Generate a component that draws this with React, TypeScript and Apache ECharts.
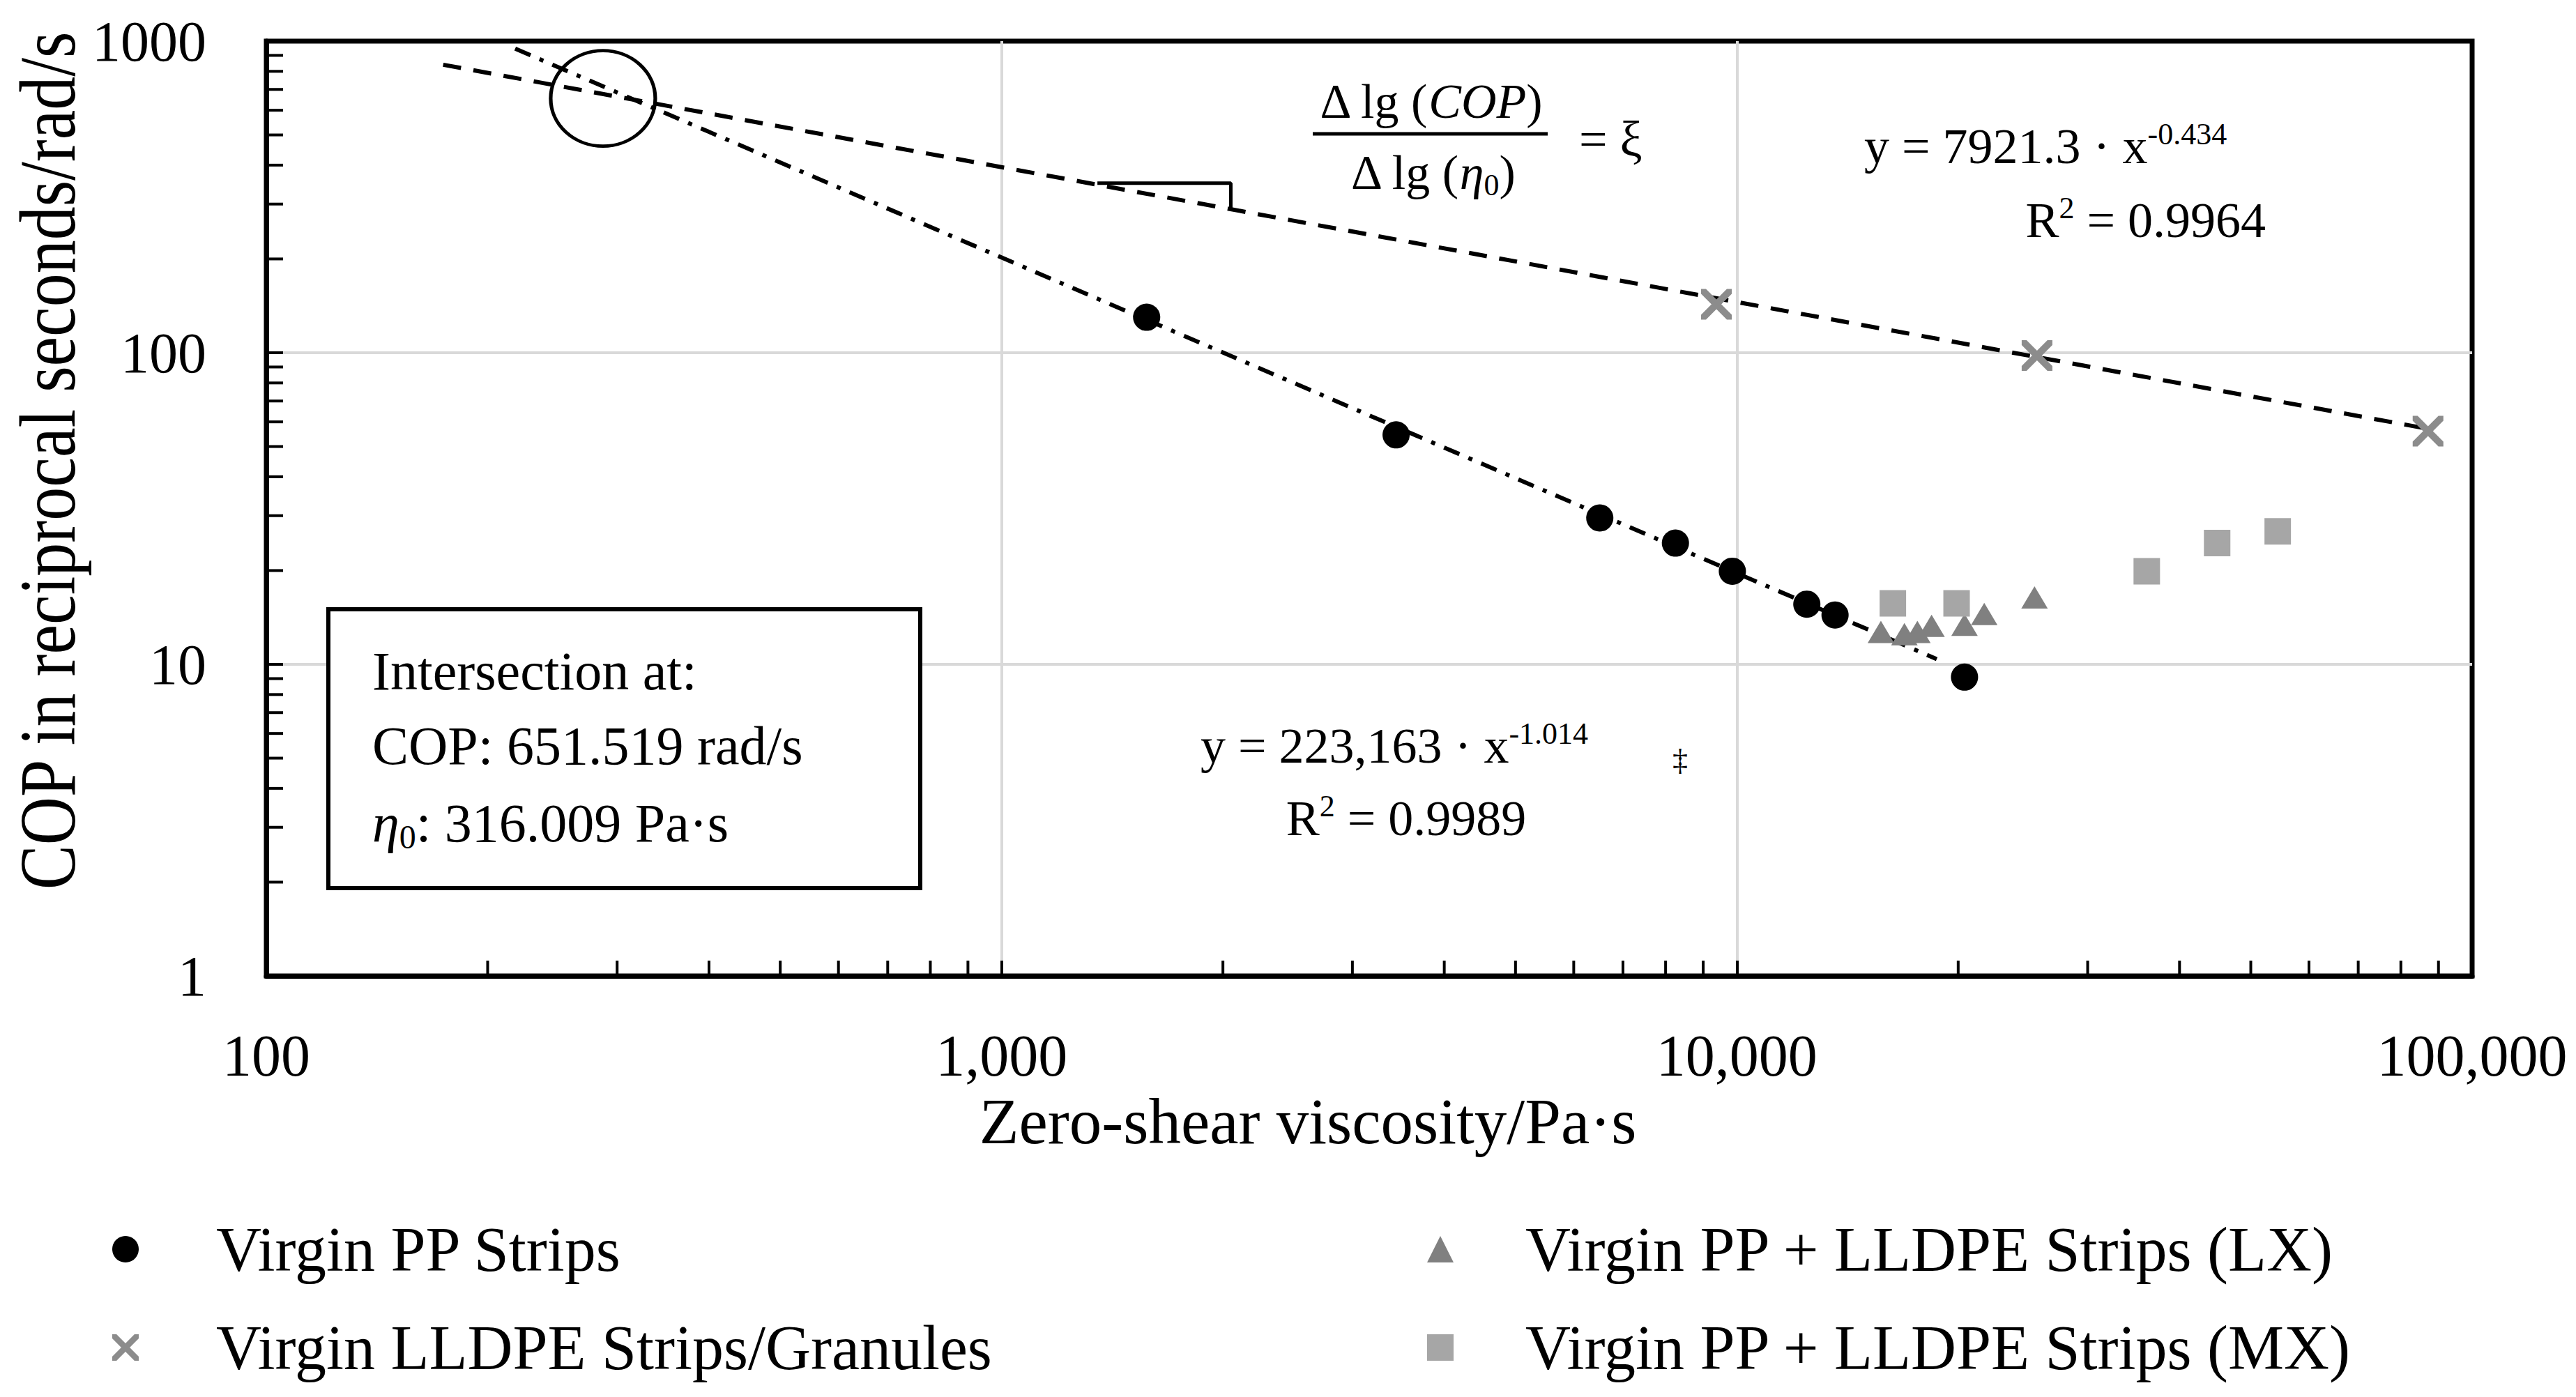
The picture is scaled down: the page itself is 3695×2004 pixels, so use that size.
import * as echarts from "echarts";
import { useEffect, useRef } from "react";

const FONT = "Liberation Serif, serif";

// measured points (zero-shear viscosity [Pa·s], COP [rad/s])
const ppPoints = [
  [1575, 130], [3440, 54.5], [6510, 29.5], [8250, 24.5],
  [9860, 19.9], [12450, 15.6], [13600, 14.4], [20400, 9.1],
];
const lldpePoints = [[9380, 143], [25600, 98], [87100, 56]];
const lxPoints = [
  [15700, 12.7], [16900, 12.5], [17600, 12.7], [18400, 13.3],
  [20400, 13.4], [21700, 14.5], [25400, 16.4],
];
const mxPoints = [[16300, 15.7], [19900, 15.7], [36100, 19.9], [45000, 24.5], [54400, 26.7]];

// trendline end points (power fits are straight on log-log)
const ppTrend = [[218, 946], [18700, 10.4]];
const lldpeTrend = [[174, 840], [87100, 57]];
const slopeMark = [[1350, 350], [2050, 350], [2050, 290]];
const circleMark = [[287, 655]];

const seriesNames = [
  "Virgin PP Strips",
  "Virgin LLDPE Strips/Granules",
  "Virgin PP + LLDPE Strips (LX)",
  "Virgin PP + LLDPE Strips (MX)",
];

const xDecades = [100, 1000, 10000];
const yDecades = [1, 10, 100];
const minorSteps = [2, 3, 4, 5, 6, 7, 8, 9];

const X_PATH =
  "path://M0,0L1.6,0L5,3.4L8.4,0L10,0L10,1.6L6.6,5L10,8.4L10,10L8.4,10L5,6.6L1.6,10L0,10L0,8.4L3.4,5L0,1.6Z";
const ELLIPSE_PATH = "path://M0,50A50,50,0,1,1,100,50A50,50,0,1,1,0,50Z";

const txt = (x: number, y: number, text: string, size: number, extra: any = {}) => ({
  type: "text",
  x,
  y,
  silent: true,
  style: {
    text,
    fontSize: size,
    fontFamily: FONT,
    fill: "#000",
    align: "left",
    verticalAlign: "middle",
    ...extra,
  },
});

export default function App() {
  const ref = useRef<HTMLDivElement | null>(null);

  useEffect(() => {
    document.body.style.margin = "0";
    if (!ref.current) return;
    const chart = echarts.init(ref.current, null, { renderer: "svg" });

    const xMinor: number[][] = [];
    xDecades.forEach((d) => minorSteps.forEach((k) => xMinor.push([d * k, 1])));
    const yMinor: number[][] = [];
    yDecades.forEach((d) => minorSteps.forEach((k) => yMinor.push([100, d * k])));

    const supRich = {
      a: { fontSize: 72, fontFamily: FONT, lineHeight: 80, fill: "#000" },
      s: { fontSize: 44, fontFamily: FONT, lineHeight: 44, verticalAlign: "top", fill: "#000" },
    };

    const option: any = {
      animation: false,
      backgroundColor: "#fff",
      textStyle: { fontFamily: FONT },
      grid: {
        left: 382,
        top: 59,
        right: 149,
        bottom: 604,
        show: true,
        borderColor: "#000",
        borderWidth: 7,
      },
      xAxis: {
        type: "log",
        logBase: 10,
        min: 100,
        max: 100000,
        axisLine: { show: true, lineStyle: { color: "#000", width: 7 } },
        axisTick: { show: true, inside: true, length: 22, lineStyle: { color: "#000", width: 4 } },
        axisLabel: {
          fontSize: 84,
          fontFamily: FONT,
          color: "#000",
          margin: 72,
          formatter: (v: number) => Number(v).toLocaleString("en-US"),
        },
        splitLine: {
          show: true,
          showMinLine: false,
          showMaxLine: false,
          lineStyle: { color: "#d9d9d9", width: 4 },
        },
      },
      yAxis: {
        type: "log",
        logBase: 10,
        min: 1,
        max: 1000,
        axisLine: { show: true, lineStyle: { color: "#000", width: 7 } },
        axisTick: { show: true, inside: true, length: 24, lineStyle: { color: "#000", width: 4 } },
        axisLabel: {
          fontSize: 82,
          fontFamily: FONT,
          color: "#000",
          margin: 86,
          formatter: (v: number) => String(v),
        },
        splitLine: {
          show: true,
          showMinLine: false,
          showMaxLine: false,
          lineStyle: { color: "#d9d9d9", width: 4 },
        },
      },
      legend: [
        {
          orient: "vertical",
          left: 156,
          top: 1737,
          itemGap: 41,
          itemWidth: 38,
          itemHeight: 38,
          selectedMode: false,
          textStyle: { fontSize: 90, fontFamily: FONT, color: "#000", lineHeight: 100, padding: [0, 0, 0, 106] },
          data: [seriesNames[0], seriesNames[1]],
        },
        {
          orient: "vertical",
          left: 2042,
          top: 1737,
          itemGap: 41,
          itemWidth: 38,
          itemHeight: 38,
          selectedMode: false,
          textStyle: { fontSize: 90, fontFamily: FONT, color: "#000", lineHeight: 100, padding: [0, 0, 0, 98] },
          data: [seriesNames[2], seriesNames[3]],
        },
      ],
      series: [
        {
          type: "line",
          data: ppTrend,
          symbol: "none",
          silent: true,
          z: 2,
          lineStyle: { color: "#000", width: 6, type: [24, 14, 6, 14] },
        },
        {
          type: "line",
          data: lldpeTrend,
          symbol: "none",
          silent: true,
          z: 2,
          lineStyle: { color: "#000", width: 6, type: [26, 18] },
        },
        {
          type: "line",
          data: slopeMark,
          symbol: "none",
          silent: true,
          z: 2,
          lineStyle: { color: "#000", width: 5 },
        },
        {
          type: "scatter",
          data: circleMark,
          symbol: ELLIPSE_PATH,
          symbolSize: [150, 137],
          silent: true,
          z: 2,
          itemStyle: { color: "rgba(0,0,0,0)", borderColor: "#000", borderWidth: 5, opacity: 1 },
        },
        {
          name: seriesNames[0],
          type: "scatter",
          data: ppPoints,
          symbol: "circle",
          symbolSize: 39,
          z: 4,
          itemStyle: { color: "#000", opacity: 1 },
        },
        {
          name: seriesNames[1],
          type: "scatter",
          data: lldpePoints,
          symbol: X_PATH,
          symbolSize: 44,
          z: 4,
          itemStyle: { color: "#8c8c8c", opacity: 1 },
        },
        {
          name: seriesNames[2],
          type: "scatter",
          data: lxPoints,
          symbol: "triangle",
          symbolSize: [38, 32],
          z: 4,
          itemStyle: { color: "#808080", opacity: 1 },
        },
        {
          name: seriesNames[3],
          type: "scatter",
          data: mxPoints,
          symbol: "rect",
          symbolSize: [38, 38],
          z: 5,
          itemStyle: { color: "#a6a6a6", opacity: 1 },
        },
        {
          type: "custom",
          data: xMinor,
          silent: true,
          z: 6,
          renderItem: (_p: any, api: any) => {
            const pt = api.coord([api.value(0), api.value(1)]);
            return {
              type: "line",
              shape: { x1: pt[0], y1: pt[1], x2: pt[0], y2: pt[1] - 22 },
              style: { stroke: "#000", lineWidth: 4 },
            };
          },
        },
        {
          type: "custom",
          data: yMinor,
          silent: true,
          z: 6,
          renderItem: (_p: any, api: any) => {
            const pt = api.coord([api.value(0), api.value(1)]);
            return {
              type: "line",
              shape: { x1: pt[0], y1: pt[1], x2: pt[0] + 24, y2: pt[1] },
              style: { stroke: "#000", lineWidth: 4 },
            };
          },
        },
      ],
      graphic: [
        // axis titles
        {
          type: "text",
          x: 68,
          y: 661,
          rotation: Math.PI / 2,
          scaleY: 1.2,
          silent: true,
          style: {
            text: "COP in reciprocal seconds/rad/s",
            fontSize: 96,
            fontFamily: FONT,
            fill: "#000",
            align: "center",
            verticalAlign: "middle",
          },
        },
        txt(1876, 1608, "Zero-shear viscosity/Pa·s", 93, { align: "center" }),
        // slope definition
        {
          type: "text",
          x: 2052,
          y: 145,
          silent: true,
          style: {
            text: "{n|Δ lg (}{i|COP}{n|)}",
            align: "center",
            verticalAlign: "middle",
            rich: {
              n: { fontSize: 70, fontFamily: FONT, fill: "#000" },
              i: { fontSize: 70, fontFamily: FONT, fontStyle: "italic", fill: "#000" },
            },
          },
        },
        {
          type: "line",
          silent: true,
          shape: { x1: 1883, y1: 192, x2: 2220, y2: 192 },
          style: { stroke: "#000", lineWidth: 5 },
        },
        {
          type: "text",
          x: 2055,
          y: 247,
          silent: true,
          style: {
            text: "{n|Δ lg (}{i|η}{b|0}{n|)}",
            align: "center",
            verticalAlign: "middle",
            rich: {
              n: { fontSize: 70, fontFamily: FONT, lineHeight: 80, fill: "#000" },
              i: { fontSize: 70, fontFamily: FONT, lineHeight: 80, fontStyle: "italic", fill: "#000" },
              b: { fontSize: 44, fontFamily: FONT, lineHeight: 44, verticalAlign: "bottom", fill: "#000" },
            },
          },
        },
        txt(2265, 200, "= ξ", 72),
        // LLDPE fit
        {
          type: "text",
          x: 2674,
          y: 210,
          silent: true,
          style: { text: "{a|y = 7921.3 · x}{s|-0.434}", align: "left", verticalAlign: "middle", rich: supRich },
        },
        {
          type: "text",
          x: 3250,
          y: 316,
          silent: true,
          style: { text: "{a|R}{s|2}{a| = 0.9964}", align: "right", verticalAlign: "middle", rich: supRich },
        },
        // PP fit
        {
          type: "text",
          x: 2000,
          y: 1070,
          silent: true,
          style: { text: "{a|y = 223,163 · x}{s|-1.014}", align: "center", verticalAlign: "middle", rich: supRich },
        },
        {
          type: "text",
          x: 2017,
          y: 1174,
          silent: true,
          style: { text: "{a|R}{s|2}{a| = 0.9989}", align: "center", verticalAlign: "middle", rich: supRich },
        },
        txt(2410, 1090, "‡", 44, { align: "center" }),
        // intersection box
        {
          type: "rect",
          silent: true,
          shape: { x: 471, y: 874, width: 849, height: 400 },
          style: { fill: "#fff", stroke: "#000", lineWidth: 6 },
          z: 10,
        },
        { ...txt(534, 962, "Intersection at:", 78), z: 11 },
        { ...txt(534, 1069, "COP: 651.519 rad/s", 78), z: 11 },
        {
          type: "text",
          x: 534,
          y: 1180,
          silent: true,
          z: 11,
          style: {
            text: "{i|η}{b|0}{n|: 316.009 Pa·s}",
            align: "left",
            verticalAlign: "middle",
            rich: {
              n: { fontSize: 78, fontFamily: FONT, lineHeight: 88, fill: "#000" },
              i: { fontSize: 78, fontFamily: FONT, lineHeight: 88, fontStyle: "italic", fill: "#000" },
              b: { fontSize: 48, fontFamily: FONT, lineHeight: 48, verticalAlign: "bottom", fill: "#000" },
            },
          },
        },
      ],
    };

    chart.setOption(option);
    return () => chart.dispose();
  }, []);

  return <div ref={ref} style={{ width: 3695, height: 2004 }} />;
}
